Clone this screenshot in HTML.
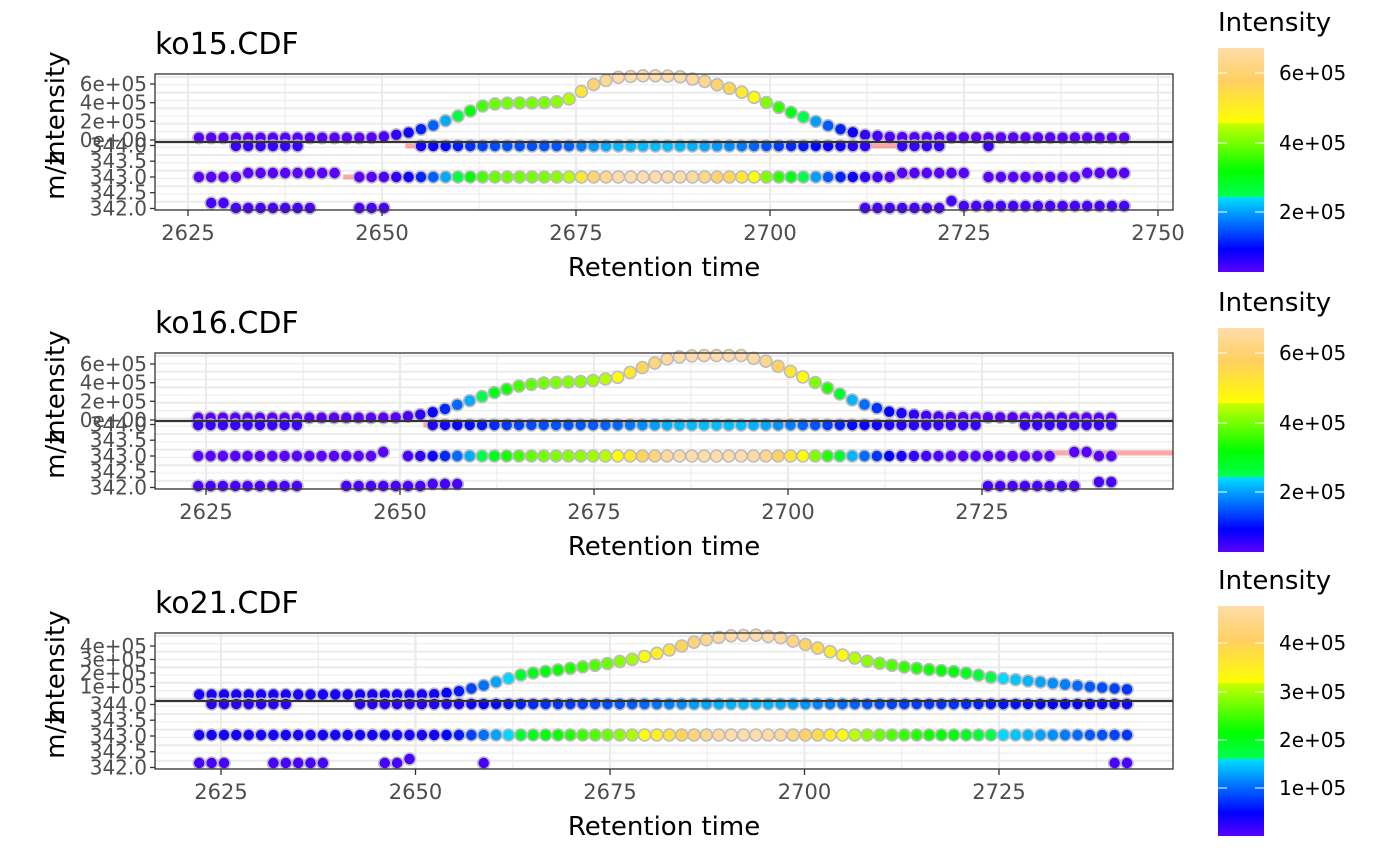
<!DOCTYPE html>
<html><head><meta charset="utf-8"><style>
html,body{margin:0;padding:0;background:#fff}
svg{display:block}
text{font-family:"DejaVu Sans","Liberation Sans",sans-serif}
</style></head><body>
<svg id="s" width="1400" height="866" viewBox="0 0 1400 866" xmlns="http://www.w3.org/2000/svg">
<defs>
<linearGradient id="cb" x1="0" y1="1" x2="0" y2="0">
<stop offset="0" stop-color="#5a00ff"/>
<stop offset="0.1" stop-color="#0000ff"/>
<stop offset="0.335" stop-color="#00e0ff"/>
<stop offset="0.336" stop-color="#00ff50"/>
<stop offset="0.45" stop-color="#00ff00"/>
<stop offset="0.664" stop-color="#c8ff00"/>
<stop offset="0.665" stop-color="#ffff00"/>
<stop offset="0.85" stop-color="#ffd060"/>
<stop offset="1" stop-color="#ffdcaa"/>
</linearGradient>
</defs>
</svg>
<script>
var S=document.getElementById('s'),out='';
var stops=[[0,[90,0,255]],[0.1,[0,0,255]],[0.335,[0,224,255]],[0.336,[0,255,80]],[0.45,[0,255,0]],[0.664,[200,255,0]],[0.665,[255,255,0]],[0.85,[255,208,96]],[1,[255,220,170]]];
function col(f){f=Math.max(0,Math.min(1,f));for(var i=1;i<stops.length;i++){if(f<=stops[i][0]){var a=stops[i-1],b=stops[i],u=(f-a[0])/(b[0]-a[0]);return 'rgb('+[0,1,2].map(function(k){return Math.round(a[1][k]+(b[1][k]-a[1][k])*u)}).join(',')+')';}}return 'rgb(255,220,170)';}
function pl(k,t){if(t<=k[0][0])return k[0][1];for(var i=1;i<k.length;i++){if(t<=k[i][0]){var u=(t-k[i-1][0])/(k[i][0]-k[i-1][0]);return k[i-1][1]+(k[i][1]-k[i-1][1])*u;}}return k[k.length-1][1];}
function inS(t,segs){for(var i=0;i<segs.length;i++)if(t>=segs[i][0]-0.3&&t<=segs[i][1]+0.3)return segs[i];return null;}
function panel(c){
 var L=155,R=1173,T=c.top,B=c.top+136,D=c.top+68;
 var X=function(t){return c.x0+(t-2625)*c.sc};
 out+='<rect x="'+L+'" y="'+T+'" width="'+(R-L)+'" height="'+(B-T)+'" fill="#fff"/>';
 for(var t=2600;t<=2775;t+=12.5){var x=X(t);if(x<L||x>R)continue;var maj=(t%25==0);out+='<line x1="'+x+'" y1="'+T+'" x2="'+x+'" y2="'+B+'" stroke="#ebebeb" stroke-width="'+(maj?2.2:1.1)+'"/>';}
 for(var y=T+3;y<B;y+=7.8){out+='<line x1="'+L+'" y1="'+y+'" x2="'+R+'" y2="'+y+'" stroke="#ebebeb" stroke-width="'+(Math.round((y-T)/7.8)%2?1.1:2)+'"/>';}
 c.red.forEach(function(r){out+='<line x1="'+X(r[0])+'" y1="'+r[2]+'" x2="'+Math.min(R,X(r[1]))+'" y2="'+r[2]+'" stroke="rgba(255,60,60,0.45)" stroke-width="5"/>';});
 var fr=function(I){return (I-c.cmin)/(c.cmax-c.cmin)};
 var dots='';
 for(var t=c.t0;t<=c.t1+0.01;t+=c.dt){
  var g=pl(c.k,t),I=g*c.imax,x=X(t);
  var fc=col(fr(I));
  dots+='<circle cx="'+x.toFixed(1)+'" cy="'+(c.i0-I*c.ipx).toFixed(1)+'" r="6" fill="'+fc+'"/>';
  var a=inS(t,c.rowA);if(a)dots+='<circle cx="'+x.toFixed(1)+'" cy="'+(c.mzA+(a[2]||0))+'" r="6" fill="'+col(0.04+0.25*fr(I))+'"/>';
  var b=inS(t,c.rowB);if(b)dots+='<circle cx="'+x.toFixed(1)+'" cy="'+(c.mzB+(b[2]||0))+'" r="6" fill="'+fc+'"/>';
  var cc=inS(t,c.rowC);if(cc)dots+='<circle cx="'+x.toFixed(1)+'" cy="'+(c.mzC+(cc[2]||0))+'" r="6" fill="'+col(0.02)+'"/>';
 }
 out+='<g stroke="#bdbdbd" stroke-width="1.6">'+dots+'</g>';
 out+='<line x1="'+L+'" y1="'+D+'" x2="'+R+'" y2="'+D+'" stroke="#333" stroke-width="2.2"/>';
 out+='<rect x="'+L+'" y="'+T+'" width="'+(R-L)+'" height="'+(B-T)+'" fill="none" stroke="#333" stroke-width="1.3"/>';
 c.yt.forEach(function(p){out+='<line x1="150" y1="'+p[1]+'" x2="155" y2="'+p[1]+'" stroke="#333" stroke-width="1.3"/><text x="147" y="'+(p[1]+7)+'" text-anchor="end" font-size="20" fill="#4d4d4d">'+p[0]+'</text>';});
 c.xt.forEach(function(t){var x=X(t);out+='<line x1="'+x+'" y1="'+B+'" x2="'+x+'" y2="'+(B+6)+'" stroke="#333" stroke-width="1.3"/><text x="'+x+'" y="'+(B+30)+'" text-anchor="middle" font-size="21" fill="#4d4d4d">'+t+'</text>';});
 out+='<text x="155" y="'+(T-20)+'" font-size="30" fill="#000">'+c.title+'</text>';
 out+='<text x="664" y="'+(B+66)+'" text-anchor="middle" font-size="26" fill="#000">Retention time</text>';
 out+='<text transform="translate(64,'+(T+34)+') rotate(-90)" text-anchor="middle" font-size="26">Intensity</text>';
 out+='<text transform="translate(64,'+(T+102)+') rotate(-90)" text-anchor="middle" font-size="26">m/z</text>';
 var cb=c.cb;out+='<text x="1218" y="'+(cb[0]-17)+'" font-size="26">Intensity</text>';
 out+='<rect x="1218" y="'+cb[0]+'" width="46" height="'+(cb[1]-cb[0])+'" fill="url(#cb)"/>';
 c.ct.forEach(function(p){out+='<line x1="1218" y1="'+p[1]+'" x2="1227" y2="'+p[1]+'" stroke="#fff" stroke-width="1"/><line x1="1255" y1="'+p[1]+'" x2="1264" y2="'+p[1]+'" stroke="#fff" stroke-width="1"/><text x="1279" y="'+(p[1]+7)+'" font-size="20">'+p[0]+'</text>';});
}
panel({title:'ko15.CDF',top:74,x0:188,sc:7.76,t0:2626.4,t1:2746.5,dt:1.59,imax:6.9e5,i0:140,ipx:56/6e5,cmin:0.28e5,cmax:6.69e5,
 k:[[2626,0.035],[2648,0.035],[2650,0.05],[2653,0.1],[2656,0.2],[2660,0.38],[2663,0.53],[2665,0.57],[2672,0.58],[2674,0.63],[2677,0.85],[2680,0.97],[2684,1],[2688,0.99],[2692,0.9],[2696,0.76],[2700,0.56],[2704,0.37],[2708,0.2],[2712,0.08],[2716,0.045],[2746,0.035]],
 mzA:146,mzB:177,mzC:208,
 rowA:[[2630.5,2639],[2654.5,2712.5],[2716,2722],[2727,2729]],
 rowB:[[2626,2631],[2632,2645,-4],[2646,2716],[2717,2726,-4],[2727,2739],[2740,2747,-4]],
 rowC:[[2628,2630,-5],[2631,2642],[2646,2650],[2712.5,2722],[2723,2724,-7],[2725,2747,-2]],
 red:[[2645,2718,177],[2653,2718,146]],
 yt:[['6e+05',84],['4e+05',102.7],['2e+05',121.3],['0e+00',140],['344.0',145.5],['343.5',161.2],['343.0',177],['342.5',192.7],['342.0',208.5]],
 xt:[2625,2650,2675,2700,2725,2750],cb:[48,272],ct:[['6e+05',73],['4e+05',143],['2e+05',212]]});
panel({title:'ko16.CDF',top:353,x0:206,sc:7.76,t0:2624,t1:2743,dt:1.59,imax:6.9e5,i0:420,ipx:56/6e5,cmin:0.28e5,cmax:6.69e5,
 k:[[2624,0.035],[2649,0.035],[2652,0.07],[2655,0.14],[2658,0.26],[2662,0.42],[2665,0.52],[2668,0.57],[2674,0.6],[2678,0.66],[2682,0.85],[2685,0.97],[2688,1],[2694,1],[2697,0.92],[2701,0.72],[2705,0.5],[2709,0.27],[2713,0.13],[2717,0.07],[2721,0.045],[2743,0.035]],
 mzA:425,mzB:456,mzC:486,
 rowA:[[2624,2637.5],[2653,2724],[2730,2742]],
 rowB:[[2624,2647],[2648,2649,-4],[2650,2735],[2736,2739,-4],[2740,2742],[2743,2744,-4]],
 rowC:[[2624,2637.5],[2642,2653],[2654,2658,-2],[2725,2738],[2739,2744,-4]],
 red:[[2653,2720,456],[2732,2760,453],[2653,2700,425]],
 yt:[['6e+05',364],['4e+05',382.7],['2e+05',401.3],['0e+00',420],['344.0',424.5],['343.5',440.2],['343.0',456],['342.5',471.7],['342.0',487.5]],
 xt:[2625,2650,2675,2700,2725],cb:[328,552],ct:[['6e+05',353],['4e+05',423],['2e+05',492]]});
panel({title:'ko21.CDF',top:633,x0:221,sc:7.78,t0:2622.2,t1:2742,dt:1.59,imax:4.8e5,i0:700,ipx:13.5/1e5,cmin:0.06e5,cmax:4.76e5,
 k:[[2622,0.085],[2652,0.085],[2655,0.12],[2658,0.2],[2661,0.3],[2664,0.4],[2668,0.46],[2674,0.55],[2678,0.63],[2682,0.75],[2686,0.9],[2690,0.99],[2694,1],[2697,0.96],[2700,0.86],[2704,0.72],[2708,0.6],[2712,0.52],[2716,0.47],[2720,0.43],[2724,0.35],[2730,0.28],[2736,0.21],[2742,0.16]],
 mzA:704,mzB:735,mzC:763,
 rowA:[[2624,2634],[2642.5,2742]],
 rowB:[[2622,2742]],
 rowC:[[2622,2626],[2632,2639],[2646,2648],[2649,2650,-4],[2658,2659],[2740,2742.5]],
 red:[[2650,2722,735],[2650,2722,704]],
 yt:[['4e+05',646],['3e+05',659.5],['2e+05',673],['1e+05',686.5],['344.0',704.5],['343.5',720.2],['343.0',736],['342.5',751.7],['342.0',767.5]],
 xt:[2625,2650,2675,2700,2725],cb:[606,836],ct:[['4e+05',643],['3e+05',692],['2e+05',740],['1e+05',788]]});
S.insertAdjacentHTML('beforeend',out);
</script>
</body></html>
